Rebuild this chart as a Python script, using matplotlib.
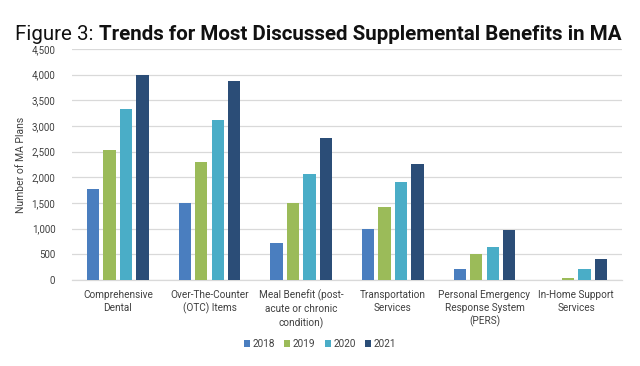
import matplotlib
matplotlib.use("Agg")
import matplotlib.pyplot as plt
import numpy as np

plt.rcParams['font.family'] = ['Roboto', 'DejaVu Sans']

categories = ["Comprehensive\nDental", "Over-The-Counter\n(OTC) Items",
              "Meal Benefit (post-\nacute or chronic\ncondition)",
              "Transportation\nServices", "Personal Emergency\nResponse System\n(PERS)",
              "In-Home Support\nServices"]
years = ["2018", "2019", "2020", "2021"]
v2018 = [1770, 1500, 725, 990, 210, 0]
v2019 = [2530, 2305, 1500, 1430, 500, 40]
v2020 = [3335, 3115, 2060, 1915, 650, 210]
v2021 = [3995, 3870, 2770, 2255, 970, 405]
colors = ["#4a7ebf", "#9bbb59", "#4aadc7", "#2b4d77"]
yticks = [0, 500, 1000, 1500, 2000, 2500, 3000, 3500, 4000, 4500]

fig = plt.figure(figsize=(6.4, 3.66), dpi=100)
ax = fig.add_axes([72/640, 1-280/366, (622-72)/640, (280-49)/366])

x = np.arange(len(categories))
step = 0.18
width = 0.135
for i, (vals, yr, c) in enumerate(zip([v2018, v2019, v2020, v2021], years, colors)):
    ax.bar(x + (i - 1.5) * step, vals, width=width, color=c, label=yr, zorder=3)

ax.set_xlim(-0.5, len(categories) - 0.5)
ax.set_ylim(0, 4500)
ax.set_yticks(yticks)
ax.set_yticklabels([f"{t:,}" for t in yticks])
ax.set_xticks(x)
ax.set_xticklabels(categories, fontsize=7.2, color="#404040", linespacing=1.35)
ax.tick_params(axis='y', labelsize=7, colors="#404040", length=0, pad=12)
ax.tick_params(axis='x', length=0, pad=7)
ax.grid(axis='y', color="#d9d9d9", linewidth=0.9, zorder=0)
for s in ["top", "right", "left"]:
    ax.spines[s].set_visible(False)
ax.spines["bottom"].set_color("#d9d9d9")
ax.spines["bottom"].set_linewidth(0.9)
ax.set_ylabel("Number of MA Plans", fontsize=7.5, color="#404040", labelpad=4)

leg = fig.legend(loc="center", bbox_to_anchor=(320/640, 1-344/366), ncol=4, frameon=False,
                 fontsize=7.2, handlelength=0.6, handleheight=0.6, handletextpad=0.3,
                 columnspacing=0.9, labelcolor="#404040")

fs = 14.8
fig.text(15/640, 1-40/366, "Figure 3: ", fontsize=fs, color="#111111", va="baseline", ha="left")
t1 = fig.text(0, 0, "Figure 3: ", fontsize=fs)
fig.canvas.draw()
bb = t1.get_window_extent()
t1.remove()
fig.text((15 + bb.width)/640, 1-40/366, "Trends for Most Discussed Supplemental Benefits in MA",
         fontsize=fs, fontweight="bold", color="#111111", va="baseline", ha="left")

fig.savefig("out.png", dpi=100)
